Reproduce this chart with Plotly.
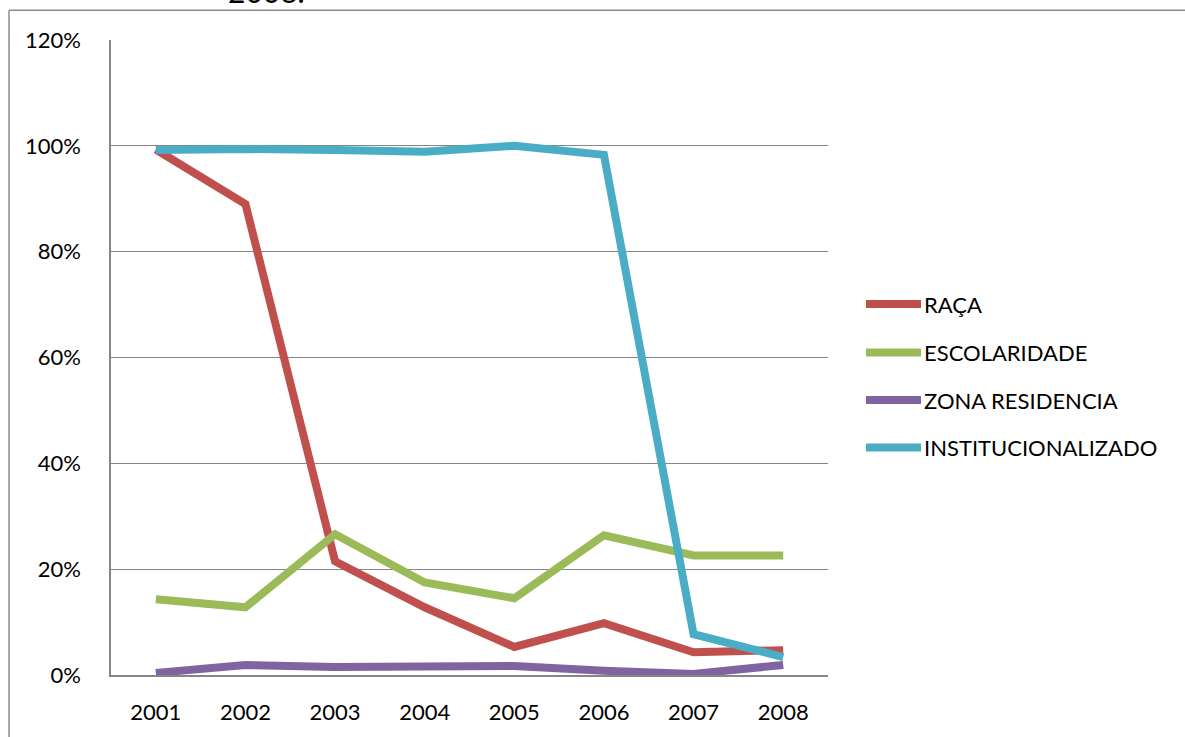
import plotly.graph_objects as go

years = ["2001", "2002", "2003", "2004", "2005", "2006", "2007", "2008"]
series_names = ["RAÇA", "ESCOLARIDADE", "ZONA RESIDENCIA", "INSTITUCIONALIZADO"]
raca = [0.993, 0.89, 0.215, 0.128, 0.053, 0.098, 0.043, 0.047]
escolaridade = [0.143, 0.128, 0.266, 0.175, 0.145, 0.264, 0.226, 0.226]
zona = [0.004, 0.019, 0.015, 0.017, 0.017, 0.008, 0.002, 0.019]
instit = [0.992, 0.994, 0.992, 0.989, 1.0, 0.983, 0.077, 0.034]
colors = ["#C0504D", "#9BBB59", "#8064A2", "#4BACC6"]
values = [raca, escolaridade, zona, instit]

W, H = 1185, 737
L, R, T, B = 111, 828, 40, 682
FONT = "Lato"

def px_x(p):
    return (p - L) / (R - L)

def px_y(p):
    return (B - p) / (B - T)

fig = go.Figure()
for name, vals, c in zip(series_names, values, colors):
    fig.add_trace(go.Scatter(x=years, y=vals, name=name, mode="lines",
                             line=dict(color=c, width=8), showlegend=False))

shapes = []
annotations = []
# manual legend
leg_rows = [307, 356, 404, 452]
for name, c, yy in zip(series_names, colors, leg_rows):
    shapes.append(dict(type="line", xref="paper", yref="paper",
                       x0=px_x(866), x1=px_x(921), y0=px_y(yy), y1=px_y(yy),
                       line=dict(color=c, width=8)))
    annotations.append(dict(text=name, xref="paper", yref="paper",
                            x=px_x(922), y=px_y(yy), xanchor="left", yanchor="middle",
                            showarrow=False, font=dict(family=FONT, size=22, color="#000")))
# frame
shapes.append(dict(type="line", xref="paper", yref="paper",
                   x0=px_x(9), x1=px_x(1200), y0=px_y(10), y1=px_y(10),
                   line=dict(color="#8C8C8C", width=1.5)))
shapes.append(dict(type="line", xref="paper", yref="paper",
                   x0=px_x(9), x1=px_x(9), y0=px_y(10), y1=px_y(750),
                   line=dict(color="#8C8C8C", width=1.5)))
# clipped title
annotations.append(dict(text="2008.", xref="paper", yref="paper",
                        x=px_x(266), y=px_y(11), xanchor="center", yanchor="bottom",
                        showarrow=False, font=dict(family=FONT, size=30, color="#000")))

fig.update_layout(
    width=W, height=H,
    margin=dict(l=L, r=W - R, t=T, b=H - B),
    paper_bgcolor="white", plot_bgcolor="white",
    font=dict(family=FONT, size=22, color="#000"),
    shapes=shapes, annotations=annotations,
    showlegend=False,
)
fig.update_xaxes(type="category", range=[-0.5, 7.5], showgrid=False,
                 showline=True, linecolor="#868686", linewidth=1.5,
                 ticks="", ticklabelstandoff=17, tickfont=dict(size=22))
fig.update_yaxes(range=[0, 1.2], dtick=0.2, tickformat=".0%",
                 showgrid=True, gridcolor="#868686", gridwidth=1,
                 showline=True, linecolor="#868686", linewidth=1.5,
                 ticks="", ticklabelstandoff=24, zeroline=False, tickfont=dict(size=22))

fig.write_html("out.html", config={"displayModeBar": False},
               post_script="document.body.style.margin='0';document.body.style.overflow='hidden';")
